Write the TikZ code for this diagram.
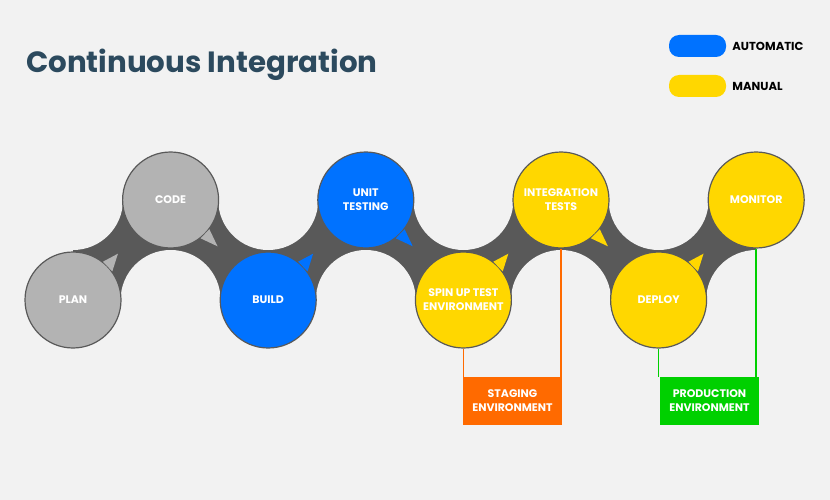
\documentclass[tikz,border=0pt]{standalone}
\usepackage{fontspec}
\setmainfont{Poppins}
\usepackage{tikz}
\usetikzlibrary{positioning}

\definecolor{bggrey}{HTML}{F2F2F2}
\definecolor{bandgrey}{HTML}{595959}
\definecolor{stepgrey}{HTML}{B3B3B3}
\definecolor{autoblue}{HTML}{0072FF}
\definecolor{manyellow}{HTML}{FFD700}
\definecolor{stagorange}{HTML}{FF6A00}
\definecolor{prodgreen}{HTML}{00D000}
\definecolor{titleblue}{HTML}{2C4A5E}

\tikzset{
	stepnode/.style={circle,draw=bandgrey,line width=1.2pt,minimum size=96pt,inner sep=0pt,align=center,text=white,font=\bfseries\fontsize{11}{14}\selectfont},
	greystep/.style={stepnode,fill=stepgrey},
	autostep/.style={stepnode,fill=autoblue},
	manstep/.style={stepnode,fill=manyellow},
	envbox/.style={rectangle,minimum width=99pt,minimum height=48pt,inner sep=0pt,align=center,text=white,font=\bfseries\fontsize{11}{14}\selectfont},
	envline/.style={line width=1.5pt},
	pill/.style={rectangle,rounded corners=10pt,minimum width=57pt,minimum height=22pt,inner sep=0pt},
	legtext/.style={inner sep=0pt,font=\bfseries\fontsize{11.6}{13}\selectfont,text=black},
	titletext/.style={inner sep=0pt,font=\bfseries\fontsize{29.3}{34}\selectfont,text=titleblue}
}

\begin{document}
\begin{tikzpicture}[x=1pt,y=-1pt]
\fill[bggrey] (0,0) rectangle (830,500);
\useasboundingbox (0,0) rectangle (830,500);

% title and legend
\node[titletext,anchor=west] (title) at (26,65) {Continuous Integration};
\node[pill,fill=autoblue] (autopill) at (697.5,46) {};
\node[legtext,right=6pt of autopill] (autotext) {AUTOMATIC};
\node[pill,fill=manyellow] (manpill) at (697.5,86) {};
\node[legtext,right=6pt of manpill] (mantext) {MANUAL};

% wavy band behind the steps
\fill[bandgrey] (73,200) rectangle (756,300);
\foreach \x/\y in {73/200,170.6/300,268.2/200,365.8/300,463.4/200,561/300,658.6/200,756.2/300}
	\fill[bggrey] (\x,\y) circle (50pt);

% steps
\node[greystep] (plan) at (73,300) {PLAN};
\node[greystep] (code) at (170.6,200) {CODE};
\node[autostep] (build) at (268.2,300) {BUILD};
\node[autostep] (unit) at (365.8,200) {UNIT\\TESTING};
\node[manstep] (spin) at (463.4,300) {SPIN UP TEST\\ENVIRONMENT};
\node[manstep] (integ) at (561,200) {INTEGRATION\\TESTS};
\node[manstep] (deploy) at (658.6,300) {DEPLOY};
\node[manstep] (monitor) at (756.2,200) {MONITOR};

% speech tails
\fill[stepgrey] (plan.52) -- ++(15,-8) -- (plan.36) -- cycle;
\fill[stepgrey] (code.-52) -- ++(17,8) -- (code.-37) -- cycle;
\fill[autoblue] (build.52) -- ++(15,-8) -- (build.36) -- cycle;
\fill[autoblue] (unit.-52) -- ++(17,8) -- (unit.-37) -- cycle;
\fill[manyellow] (spin.52) -- ++(15,-8) -- (spin.36) -- cycle;
\fill[manyellow] (integ.-52) -- ++(17,8) -- (integ.-37) -- cycle;
\fill[manyellow] (deploy.52) -- ++(15,-8) -- (deploy.36) -- cycle;

% environments
\node[envbox,fill=stagorange] (staging) at (512.5,401) {STAGING\\ENVIRONMENT};
\node[envbox,fill=prodgreen] (production) at (709.5,401) {PRODUCTION\\ENVIRONMENT};

\draw[envline,draw=stagorange] (spin.south) -- (spin.south |- staging.north);
\draw[envline,draw=stagorange] (integ.south) -- (integ.south |- staging.north);
\draw[envline,draw=prodgreen] (deploy.south) -- (deploy.south |- production.north);
\draw[envline,draw=prodgreen] (monitor.south) -- (monitor.south |- production.north);

\end{tikzpicture}
\end{document}
